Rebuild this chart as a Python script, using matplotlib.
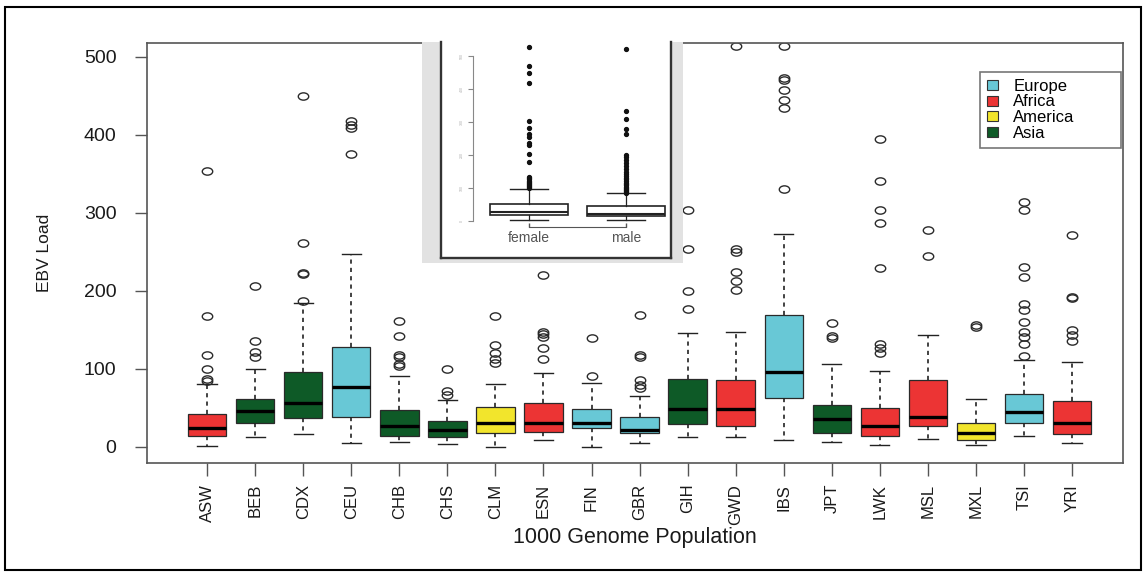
import numpy as np
import matplotlib.pyplot as plt
from matplotlib.patches import Rectangle, Patch
from matplotlib.path import Path
from matplotlib.transforms import Affine2D

plt.rcParams['font.family'] = ['Liberation Sans', 'DejaVu Sans']

# EBV load per 1000 Genome population (box plot stats)
populations = ['ASW', 'BEB', 'CDX', 'CEU', 'CHB', 'CHS', 'CLM', 'ESN', 'FIN', 'GBR',
               'GIH', 'GWD', 'IBS', 'JPT', 'LWK', 'MSL', 'MXL', 'TSI', 'YRI']
regions = ['Africa', 'Asia', 'Asia', 'Europe', 'Asia', 'Asia', 'America', 'Africa', 'Europe', 'Europe',
           'Asia', 'Africa', 'Europe', 'Asia', 'Africa', 'Africa', 'America', 'Europe', 'Africa']
whislo = [1, 13, 16, 5, 6, 3, 0, 9, 0, 5, 12, 13, 8, 6, 2, 10, 2, 14, 5]
q1 = [14, 31, 37, 38, 14, 13, 18, 19, 24, 17, 29, 27, 63, 18, 14, 26, 9, 31, 16]
med = [24, 46, 56, 76, 27, 22, 31, 30, 31, 22, 48, 48, 96, 35, 26, 38, 17, 44, 30]
q3 = [42, 61, 96, 128, 47, 33, 51, 56, 48, 38, 87, 85, 169, 53, 49, 85, 31, 67, 58]
whishi = [80, 100, 184, 247, 90, 60, 81, 95, 82, 65, 146, 147, 273, 106, 97, 143, 61, 111, 109]
fliers = [
    [84, 87, 100, 117, 167, 353],
    [115, 122, 136, 206],
    [187, 221, 223, 261, 450],
    [375, 408, 412, 417],
    [103, 106, 115, 117, 142, 161],
    [66, 72, 100],
    [107, 113, 120, 130, 168],
    [112, 126, 141, 144, 147, 220],
    [91, 139],
    [75, 79, 85, 115, 117, 169],
    [176, 199, 254, 303],
    [201, 212, 224, 249, 254, 514],
    [330, 434, 444, 457, 470, 473, 514],
    [139, 142, 159],
    [120, 126, 132, 229, 287, 303, 340, 395],
    [244, 278],
    [153, 156],
    [116, 132, 141, 147, 160, 175, 183, 218, 230, 303, 314],
    [135, 143, 150, 190, 192, 271],
]
legend_order = ['Europe', 'Africa', 'America', 'Asia']
region_colors = {'Europe': '#68c8d6', 'Africa': '#ec3434', 'America': '#f2e52c', 'Asia': '#0e5a27'}

# inset: female vs male
sexes = ['female', 'male']
sex_whislo = [3, 3]
sex_q1 = [18, 16]
sex_med = [28, 22]
sex_q3 = [51, 45]
sex_whishi = [97, 84]
sex_fliers = [
    [100, 103, 106, 108, 111, 114, 118, 122, 126, 130, 134, 178, 203, 230, 237, 255, 265,
     281, 304, 419, 449, 470, 526],
    [86, 88, 91, 94, 97, 100, 104, 108, 112, 116, 121, 126, 131, 137, 143, 150, 158, 166,
     175, 185, 193, 200, 264, 278, 308, 333, 521],
]

W, H = 1147, 578


def px(l, t, r, b):
    return [l / W, 1 - b / H, (r - l) / W, (b - t) / H]


fig = plt.figure(figsize=(W / 100, H / 100), dpi=100)
ax = fig.add_axes(px(147, 42.5, 1123, 463))

stats = []
for i in range(len(populations)):
    stats.append(dict(label=populations[i], whislo=whislo[i], q1=q1[i], med=med[i],
                      q3=q3[i], whishi=whishi[i], fliers=fliers[i]))

ellipse = Path.unit_circle().transformed(Affine2D().scale(1.0, 0.7))
positions = np.arange(1, len(populations) + 1)
bp = ax.bxp(stats, positions=positions, widths=0.8, capwidths=0.4, patch_artist=True,
            boxprops=dict(edgecolor='#2a2a2a', linewidth=0.9),
            medianprops=dict(color='black', linewidth=2.4),
            whiskerprops=dict(color='#222222', linewidth=1.2, linestyle=(0, (2.5, 2.5))),
            capprops=dict(color='#222222', linewidth=1.0),
            flierprops=dict(marker=ellipse, markersize=7.5, markerfacecolor='none',
                            markeredgecolor='#2a2a2a', markeredgewidth=1.0))
for box, reg in zip(bp['boxes'], regions):
    box.set_facecolor(region_colors[reg])

ax.set_xlim(-0.25, 20.06)
ax.set_ylim(-20.9, 518.2)
ax.set_yticks([0, 100, 200, 300, 400, 500])
ax.set_xticks(positions, populations, rotation=90)
for s in ax.spines.values():
    s.set_color('#555555')
    s.set_linewidth(1.2)
ax.tick_params(axis='y', length=9, width=1, color='#555555', labelsize=14, pad=13, labelcolor='#1a1a1a')
ax.tick_params(axis='x', length=9, width=1, color='#555555', labelsize=12, pad=6, labelcolor='#1a1a1a')
ax.set_ylabel('EBV Load', fontsize=12.5, color='#1a1a1a')
ax.yaxis.set_label_coords(-0.097, 0.5)
ax.set_xlabel('1000 Genome Population', fontsize=15.5, color='#1a1a1a')
ax.xaxis.set_label_coords(0.5, -0.152)

handles = [Patch(facecolor=region_colors[r], edgecolor='#333333', linewidth=0.8, label=r) for r in legend_order]
leg = ax.legend(handles=handles, loc='upper left', bbox_to_anchor=(980 / W, 1 - 148 / H, 141 / W, 76 / H),
                bbox_transform=fig.transFigure, mode='expand', borderaxespad=0, fontsize=12,
                handlelength=0.7, handleheight=0.55, handletextpad=0.9, labelspacing=0.05,
                borderpad=0.4, fancybox=False, framealpha=1, edgecolor='#777777')
leg.get_frame().set_linewidth(1.2)
leg.set_zorder(6)

# inset picture with its drop shadow
fig.add_artist(Rectangle((422 / W, 1 - 263 / H), (683 - 422) / W, (263 - 42) / H,
                         transform=fig.transFigure, facecolor='#e2e2e2', edgecolor='none', zorder=3))
frame = fig.add_axes(px(441, 42, 671, 258))
frame.set_zorder(4)
frame.set_facecolor('white')
frame.set_xticks([])
frame.set_yticks([])
frame.spines['top'].set_visible(False)
for k in ['left', 'right', 'bottom']:
    frame.spines[k].set_color('#333333')
    frame.spines[k].set_linewidth(1.7)

axi = fig.add_axes(px(473, 42, 671, 258))
axi.set_zorder(5)
axi.patch.set_alpha(0)
sex_stats = []
for i in range(len(sexes)):
    sex_stats.append(dict(label=sexes[i], whislo=sex_whislo[i], q1=sex_q1[i], med=sex_med[i],
                          q3=sex_q3[i], whishi=sex_whishi[i], fliers=sex_fliers[i]))
axi.bxp(sex_stats, positions=[1, 2], widths=0.8, capwidths=0.4, patch_artist=True,
        boxprops=dict(facecolor='white', edgecolor='#222222', linewidth=1.2),
        medianprops=dict(color='#222222', linewidth=1.5),
        whiskerprops=dict(color='#222222', linewidth=0.9),
        capprops=dict(color='#222222', linewidth=1.0),
        flierprops=dict(marker='o', markersize=2.8, markerfacecolor='#111111',
                        markeredgecolor='#111111'))
axi.set_xlim(0.4227, 2.464)
axi.set_ylim(-112, 542.4)
axi.spines['top'].set_visible(False)
axi.spines['right'].set_visible(False)
axi.spines['left'].set_bounds(0, 500)
axi.spines['left'].set_color('#888888')
axi.spines['left'].set_linewidth(0.8)
axi.spines['bottom'].set_position(('data', -17))
axi.spines['bottom'].set_bounds(1, 2)
axi.spines['bottom'].set_color('#555555')
axi.set_yticks([0, 100, 200, 300, 400, 500])
axi.set_yticklabels(['0', '100', '200', '300', '400', '500'], rotation=90, va='center')
axi.tick_params(axis='y', length=3.5, width=0.8, color='#888888', labelsize=2.5, labelcolor='#aaaaaa', pad=3)
axi.tick_params(axis='x', direction='in', length=3, width=1, color='#555555', labelsize=10,
                labelcolor='#555555', pad=3)

fig.add_artist(Rectangle((5 / W, 1 - 570 / H), 1136 / W, 563 / H, transform=fig.transFigure,
                         fill=False, edgecolor='black', linewidth=1.5))

fig.savefig('out.png', dpi=100)
